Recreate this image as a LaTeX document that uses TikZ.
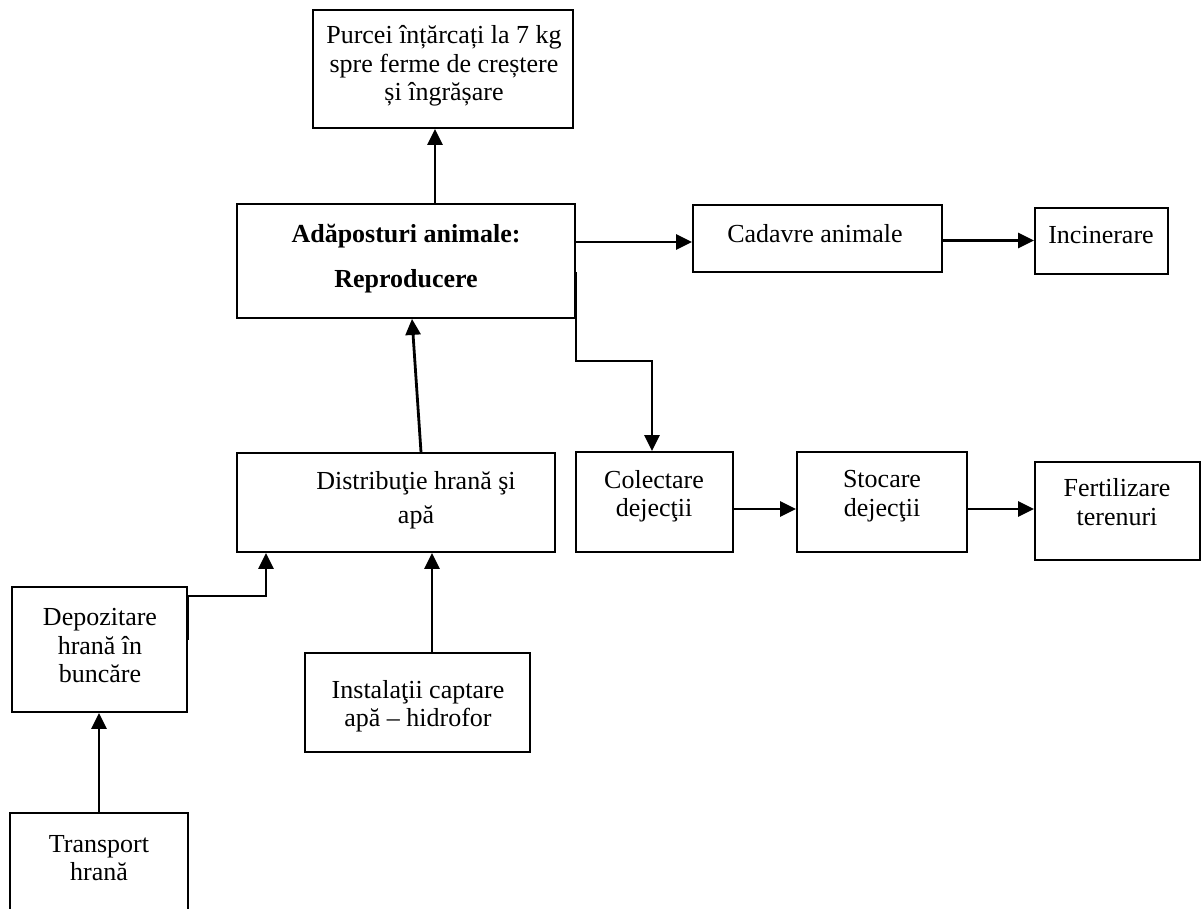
\documentclass[tikz,border=0pt]{standalone}
\usepackage{fontspec}
\setmainfont{Liberation Serif}
\usetikzlibrary{arrows.meta}
\tikzset{
  box/.style={draw, line width=1.8pt, inner sep=0pt},
  txt/.style={align=center, inner sep=0pt, font=\fontsize{26}{28.5}\selectfont},
  arr/.style={line width=2.8pt, -{Triangle[length=16pt,width=15pt]}},
}
\begin{document}
\begin{tikzpicture}[x=1pt,y=-1pt]
\useasboundingbox (0,0) rectangle (1202,908);
\clip (0,0) rectangle (1202,908);
% boxes
\node[box, minimum width=260pt, minimum height=118pt] (purcei) at (443,69) {};
\node[box, minimum width=338pt, minimum height=114pt] (adap) at (406,261) {};
\node[box, minimum width=249pt, minimum height=67pt] (cadavre) at (817.5,238.5) {};
\node[box, minimum width=133pt, minimum height=66pt] (incin) at (1101.5,241) {};
\node[box, minimum width=157pt, minimum height=100pt] (colect) at (654.5,502) {};
\node[box, minimum width=170pt, minimum height=100pt] (stocare) at (882,502) {};
\node[box, minimum width=165pt, minimum height=98pt] (fert) at (1117.5,511) {};
\node[box, minimum width=318pt, minimum height=99pt] (distr) at (396,502.5) {};
\node[box, minimum width=175pt, minimum height=125pt] (depoz) at (99.5,649.5) {};
\node[box, minimum width=178pt, minimum height=130pt] (transp) at (99,878) {};
\node[box, minimum width=225pt, minimum height=99pt] (instal) at (417.5,702.5) {};
% texts
\node[txt] (purceiT) at (444,66) {Purcei înțărcați la 7 kg\\spre ferme de creștere\\și îngrășare};
\node[txt, font=\bfseries\fontsize{26}{29}\selectfont] (adapT) at (406,259) {Adăposturi animale:\\[16pt]Reproducere};
\node[txt] (cadavreT) at (815,234) {Cadavre animale};
\node[txt] (incinT) at (1101,235) {Incinerare};
\node[txt] (colectT) at (654,496) {Colectare\\dejecţii};
\node[txt] (stocareT) at (882,496) {Stocare\\dejecţii};
\node[txt] (fertT) at (1117,502) {Fertilizare\\terenuri};
\node[txt] (distrT) at (416,500) {Distribuţie hrană şi\\[6pt]apă};
\node[txt] (depozT) at (100,646) {Depozitare\\hrană în\\buncăre};
\node[txt] (transpT) at (99,858) {Transport\\hrană};
\node[txt] (instalT) at (418,706) {Instalaţii captare\\apă – hidrofor};
% connectors
\coordinate (bend) at (652,361);
\coordinate (dj) at (266,596);
\draw[arr] ([xshift=29pt]adap.north) -- ([xshift=29pt]adap.north |- purcei.south);
\draw[arr] ([yshift=19pt]adap.east) -- ([yshift=19pt]adap.east -| cadavre.west);
\draw[arr] ([yshift=-2pt]cadavre.east) -- ([yshift=-2pt]cadavre.east -| incin.west);
\draw[arr] ([yshift=-11pt]adap.east) |- (bend) -- (bend |- colect.north);
\draw[arr] ([yshift=-7pt]colect.east) -- ([yshift=-7pt]colect.east -| stocare.west);
\draw[arr] ([yshift=-7pt]stocare.east) -- ([yshift=-7pt]stocare.east -| fert.west);
\draw[arr] ([xshift=25pt]distr.north) -- ([xshift=6pt]adap.south);
\draw[arr] ([yshift=10pt]depoz.east) |- (dj) -- (dj |- distr.south);
\draw[arr] ([xshift=14.5pt]instal.north) -- ([xshift=14.5pt]instal.north |- distr.south);
\draw[arr] (transp.north) -- (transp.north |- depoz.south);
\end{tikzpicture}
\end{document}
